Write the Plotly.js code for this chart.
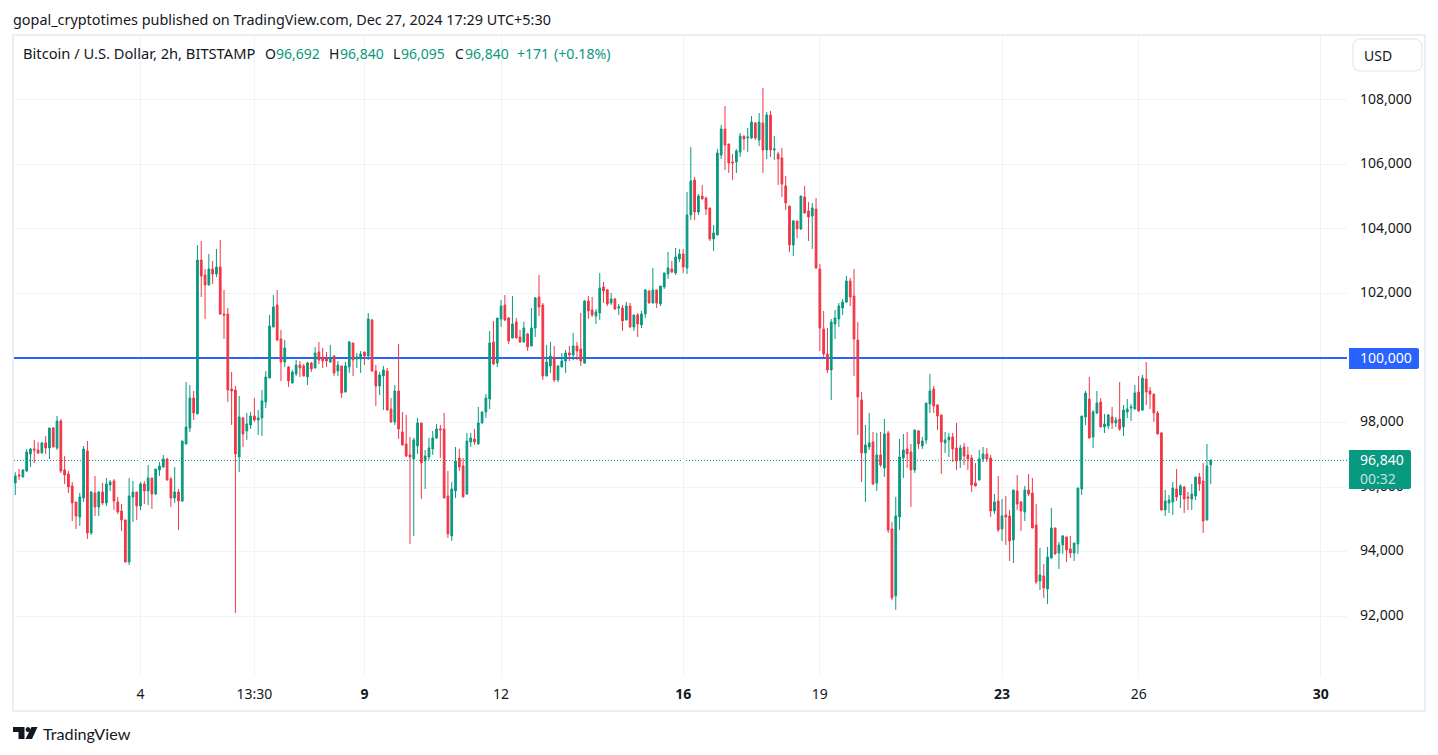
<!DOCTYPE html>
<html>
<head>
<meta charset="utf-8">
<title>Bitcoin / U.S. Dollar, 2h, BITSTAMP</title>
<script src="https://cdn.plot.ly/plotly-3.0.0.min.js"></script>
<style>html,body{margin:0;padding:0;background:#fff;overflow:hidden}#chart{width:1438px;height:755px}</style>
</head>
<body>
<div id="chart"></div>
<script>
const open = [
96126,96374,96312,96498,97025,97180,97149,97056,97366,97211,
97830,97211,98047,96529,96405,96033,95537,95072,95661,97118,
94576,95816,95382,95847,95506,96064,96188,95537,95258,94979,
93678,95692,95847,95413,96095,95878,96281,95785,96529,96622,
96870,96250,95661,95847,95568,97335,97830,98760,98266,103038,
102573,102264,102759,102604,102821,101365,101365,99041,99010,96933,
98142,97739,97925,98204,98080,98142,98638,99381,100962,101644,
100590,99877,99722,99226,99505,99784,99753,99412,99846,99691,
100187,100032,99970,99877,100063,99598,99753,98948,99722,100466,
99970,99970,100187,100063,101179,99598,99134,99443,99598,98420,
98018,98978,97708,97336,96995,96871,97274,97987,96809,96933,
97181,97522,97801,97801,95724,94485,95879,96902,96654,95786,
97398,97491,97336,97987,98327,98730,100497,99846,101209,101643,
101240,100621,101117,100652,100497,100745,100373,100931,101891,101643,
99443,99753,100032,99319,99722,99908,100156,100094,100373,100280,
99846,101769,101490,101304,101397,102203,102110,101707,101831,101552,
101552,101180,101614,100963,101335,101025,101366,102079,101707,102110,
101676,102203,102606,102761,102637,103071,103226,102792,104434,105519,
104527,105023,104961,104651,103691,103815,106294,107099,106635,106077,
106077,106387,106883,106821,106821,107285,106759,107285,106449,107533,
106449,106325,106201,105333,104713,103505,104248,104000,104992,104558,
104403,104620,102759,100900,100125,99629,101055,101210,101550,101736,
102387,101922,100559,98699,97057,97243,97398,96127,96995,96592,
97677,94702,92625,95074,96902,97181,97088,96530,97739,97274,
97460,98575,99040,98544,98235,97367,97460,97553,97212,96840,
97243,96995,96902,96127,96220,96870,97025,96901,95258,95568,
94701,95135,95104,94360,95878,95537,95228,95909,95816,94825,
93089,93244,92841,93802,94732,93957,94205,94453,94081,93957,
94236,95940,98172,98729,97552,98296,98636,97862,97893,98172,
97986,98110,97862,98327,98450,98419,98946,98388,99349,98977,
98884,98296,97676,95289,95506,95537,95940,95754,96002,95692,
95630,95723,96312,96188,94980,96692];
const high = [
96457,96560,96550,97180,97211,97459,97397,97397,97583,97830,
97861,98202,98109,96963,96498,96157,95537,95816,97273,97428,
95878,96343,95878,96126,96281,96219,96250,95692,95475,94990,
96281,96188,95847,96157,96188,96684,96281,96560,96777,96994,
96901,96312,96622,95940,97428,99256,99163,98977,103503,103627,
102759,103224,103007,103379,103658,102109,101551,99567,99134,98824,
98173,98297,98328,98762,98390,99010,99598,101334,101954,102109,
100869,100559,99753,99629,99939,99908,99815,99877,99877,100342,
100497,100311,100187,100404,100094,99908,99753,99877,100528,100466,
100156,100218,100187,101396,101210,99784,99567,99753,99691,98761,
99164,100435,98327,98234,97553,97522,98141,97987,97150,97522,
97739,97956,97925,98296,96499,96158,97243,97181,96902,97677,
97677,97801,98482,98340,98885,100838,101148,101240,101798,101953,
101271,101922,101240,100869,101117,100776,101550,101891,102573,101705,
100404,100497,100373,99784,100156,100249,100373,100776,100497,101395,
101798,101924,101893,101521,102637,102358,102141,102017,101862,101676,
101645,101738,101707,101335,101397,101459,102141,102090,102792,102110,
102234,102637,103288,103009,103412,103381,103381,105147,106542,105612,
105085,105364,105000,104651,104124,106480,107223,107812,106635,106325,
106480,106976,106883,107130,107502,107316,107595,108370,107626,107657,
106883,106387,106511,105643,104713,104279,104248,105023,105333,104837,
104806,104961,102914,101458,100931,101210,101488,101705,101829,102542,
102480,102759,101117,98947,97925,98297,97708,97677,97708,98111,
97739,94919,95693,97491,97646,97708,97336,97770,97770,97553,
98606,99505,99133,98575,98235,97708,97677,97677,97987,97305,
97367,97243,96995,96747,97150,97242,97211,96994,95785,96343,
95630,95723,95289,95909,96374,95568,96033,96405,96281,95475,
94112,93616,94143,95351,94732,94298,94515,94453,94484,94267,
95971,98203,98977,99411,98388,98977,98760,98265,98265,98481,
98172,99256,98543,98729,98574,99163,99442,99473,99876,99101,
98884,98358,97707,95909,95754,96157,96560,96095,96033,95847,
96095,96312,96436,96746,97335,96840];
const low = [
95754,96219,96300,96467,96622,96746,97025,97040,97025,96870,
97230,97149,96436,96095,95816,94948,94700,94793,95537,94391,
94515,95103,95103,95444,95413,95878,95289,95165,94638,93660,
93585,94917,94979,95289,95475,95444,95320,95754,96343,96591,
96200,95382,95506,94669,95537,97325,97707,98078,98260,101892,
101210,102250,102295,102511,101334,100590,98638,97925,92100,96468,
97243,97460,97801,98018,97615,97584,98452,99370,100950,100528,
99288,99722,99103,99210,99443,99412,99430,99165,99567,99680,
99815,99691,99722,99846,99443,99443,98762,98930,99536,99443,
99691,99536,99784,99939,99580,98514,98855,98389,98370,98000,
97925,97491,97290,96933,94237,94485,97026,95631,95941,96840,
96995,97491,96902,95650,94423,94330,95662,96499,95680,95755,
97243,97305,97320,97970,98141,98420,99784,99722,100962,101148,
100435,100610,100610,100466,100480,100218,100360,100652,101302,99319,
99430,99536,99257,99257,99710,99536,99908,99939,99939,99753,
99815,101211,101273,101056,101180,101707,101614,101645,101490,101335,
100840,101165,100932,100840,100654,100932,101242,101690,101690,101552,
101614,102141,102451,102637,102575,102978,102637,102606,104279,104279,
104434,104920,104434,103629,103319,103800,106170,105829,105736,105519,
105736,106232,106449,106387,106790,106759,106573,105736,106170,106232,
106139,105364,104992,104589,103288,103164,103722,103970,104480,103629,
103381,102761,100218,100032,99536,98699,100590,100962,101334,101705,
101612,99443,97615,96158,95538,97150,96065,95879,96623,96313,
94578,92501,92191,94671,96282,96592,95383,96437,97181,97181,
97336,98297,98297,97770,96406,97057,96933,96778,96530,96592,
96685,96530,95848,96020,96205,96777,96777,95073,95166,94608,
94329,94205,93709,93647,95289,94639,94949,95723,94720,92996,
92810,92562,92376,93771,93910,93461,93926,93678,93802,93709,
93926,95754,97924,97505,97211,98265,97850,97676,97800,97800,
97862,97738,97583,98141,98048,98405,98340,98358,98543,98419,
98017,97630,95270,95104,95196,95135,95568,95351,95196,95289,
95289,95599,95878,94577,94965,96095];
const close = [
96343,96343,96529,97087,97180,97149,97056,97366,97211,97830,
97242,98047,96498,96374,96002,95506,95103,95692,97180,94576,
95847,95382,95847,95506,96095,96157,95568,95227,94979,93678,
95723,95847,95413,96095,95878,96281,95785,96560,96653,96870,
96219,95661,95847,95568,97428,97861,98760,98295,103038,102542,
102264,102759,102604,102821,101365,101334,99010,98979,97026,98173,
97646,97956,98204,98080,98142,98669,99412,100993,101582,100559,
99877,100311,99288,99567,99784,99691,99443,99846,99660,100156,
99939,99908,99908,100001,99536,99784,98917,99753,100497,99939,
100032,100125,100063,101210,99598,99134,99474,99629,98389,98018,
98978,97801,97305,96964,96933,97460,97987,96747,96964,97212,
97522,97801,97770,95662,94547,95941,96809,96623,95693,97429,
97522,97398,97987,98327,98761,100466,99815,101240,101612,101178,
100528,101055,100621,100497,100931,100342,100931,101860,101581,99443,
99877,100063,99319,99753,99908,100156,100094,100373,100218,99908,
101767,101459,101335,101428,102172,102079,101676,101831,101521,101583,
101149,101614,100963,101335,101056,101366,102110,101707,102110,101707,
102234,102637,102792,102668,103133,103226,102823,104434,105488,104527,
105023,104930,104620,103691,103877,106356,107099,106604,106046,106046,
106418,106883,106790,106852,107316,106821,107316,106449,107533,106449,
106480,106170,105395,104806,103505,104248,104000,105023,104496,104372,
104651,102792,100931,100125,99629,101117,101241,101612,101736,102387,
101891,100590,98792,97057,97305,97367,96096,96995,96685,97646,
94671,92563,95105,96933,97150,97026,96530,97770,97336,97429,
98606,98978,98513,98204,97398,97460,97553,97181,96809,97212,
96964,96871,96065,96034,96871,97025,96870,95258,95537,94670,
95104,95073,94329,95909,95475,95258,95909,95785,94732,93058,
93275,92872,93833,94732,93926,94205,94484,94050,93957,94267,
95971,98203,98915,97521,98327,98605,97862,97955,98234,97986,
98079,97800,98388,98419,98481,98915,98358,99380,98946,98884,
98296,97645,95289,95568,95599,95971,95692,96033,95630,95661,
95785,96312,96095,94949,96653,96840];

const timeTickBars = [33,63,92,128,176,212,260,296,344];
const timeTickLabels = ['4','13:30','<b>9</b>','12','<b>16</b>','19','<b>23</b>','26','<b>30</b>'];
const priceTicks = [92000,94000,96000,98000,100000,102000,104000,106000,108000];
const alertLevel = 100000;
const lastPrice = 96840;

const UP = '#089981', DOWN = '#F23645', BLUE = '#2962FF', INK = '#131722', GRID = '#F0F3FA', FRAME = '#EDEEF5';
const FONT = '"Noto Sans", sans-serif';

// page pixels -> plot "paper" fractions
const M = {l:14, r:91, t:36, b:78}, W = 1438, H = 755;
const pw = W - M.l - M.r, ph = H - M.t - M.b;
const px = x => (x - M.l) / pw;
const py = y => 1 - (y - M.t) / ph;

const barIndex = open.map((_, i) => i);
const xRange = [-0.34, 350.9];

const candles = {
  type: 'candlestick', x: barIndex, open, high, low, close,
  increasing: {line: {color: UP, width: 1}, fillcolor: UP},
  decreasing: {line: {color: DOWN, width: 1}, fillcolor: DOWN},
  whiskerwidth: 0, hoverinfo: 'skip', showlegend: false
};
const alertLine = {
  type: 'scatter', mode: 'lines', x: xRange, y: [alertLevel, alertLevel], zorder: -1,
  line: {color: BLUE, width: 2}, hoverinfo: 'skip', showlegend: false
};

function rect(x0, y0, x1, y1, o) {
  return Object.assign({type:'rect', xref:'paper', yref:'paper', x0:px(x0), x1:px(x1), y0:py(y0), y1:py(y1), line:{width:0}}, o);
}
function poly(pts, close_, o) {
  const d = pts.map((p, i) => (i ? 'L' : 'M') + px(p[0]) + ',' + py(p[1])).join(' ') + (close_ ? ' Z' : '');
  return Object.assign({type:'path', xref:'paper', yref:'paper', path:d, line:{width:0}}, o);
}
function roundRight(x0, y0, x1, y1, fill) {
  return poly([[x0,y0],[x1-2,y0],[x1-.6,y0+.6],[x1,y0+2],[x1,y1-2],[x1-.6,y1-.6],[x1-2,y1],[x0,y1]], true, {fillcolor:fill, layer:'above'});
}
function roundAll(x0, y0, x1, y1, r) {
  const k = r * .3;
  return poly([[x0+r,y0],[x1-r,y0],[x1-k,y0+k],[x1,y0+r],[x1,y1-r],[x1-k,y1-k],[x1-r,y1],[x0+r,y1],[x0+k,y1-k],[x0,y1-r],[x0,y0+r],[x0+k,y0+k]], true,
    {fillcolor:'#fff', line:{color:'#E0E3EB', width:1}, layer:'above'});
}
function note(text, x, y, size, color, extra) {
  return Object.assign({xref:'paper', yref:'paper', x:px(x), y:py(y), text, showarrow:false, xanchor:'left', yanchor:'middle',
    font:{family:FONT, size, color}, borderpad:0, borderwidth:0}, extra);
}

const shapes = [
  rect(13, 35, 1425, 711, {fillcolor:'rgba(0,0,0,0)', line:{color:FRAME, width:2}, layer:'below'}),
  {type:'line', xref:'paper', yref:'y', x0:0, x1:1, y0:lastPrice - 17, y1:lastPrice - 17, line:{color:UP, width:1, dash:'1px,2px'}, layer:'below'},
  roundRight(1349, 348, 1419, 369, BLUE),
  roundRight(1349, 450, 1411, 489, UP),
  roundAll(1353, 39, 1422, 71, 6),
  // TradingView mark
  poly([[13,727],[24.5,727],[24.5,739],[18.5,739],[18.5,732],[13,732]], true, {fillcolor:INK, layer:'above'}),
  {type:'circle', xref:'paper', yref:'paper', x0:px(25.6), x1:px(30.4), y0:py(727), y1:py(732), fillcolor:INK, line:{width:0}, layer:'above'},
  poly([[31.5,727],[37.5,727],[32,739],[25.5,739]], true, {fillcolor:INK, layer:'above'})
];

const G = UP;
const annotations = [
  note('gopal_cryptotimes published on TradingView.com, Dec 27, 2024 17:29 UTC+5:30', 13, 19.5, 14.4, INK),
  note('Bitcoin / U.S. Dollar, 2h, BITSTAMP', 23, 53.5, 14.7, INK),
  note('O', 265, 53.5, 14, INK), note('96,692', 276, 53.5, 14, G),
  note('H', 329, 53.5, 14, INK), note('96,840', 340, 53.5, 14, G),
  note('L', 393, 53.5, 14, INK), note('96,095', 401, 53.5, 14, G),
  note('C', 455, 53.5, 14, INK), note('96,840', 465, 53.5, 14, G),
  note('+171', 517, 53.5, 14, G), note('(+0.18%)', 553.5, 53.5, 14.2, G),
  note('USD', 1364, 55, 14, INK),
  note('100,000', 1360, 358, 14, '#fff'),
  note('96,840', 1360, 459.5, 14, '#fff'),
  note('00:32', 1360, 478, 14, 'rgba(255,255,255,0.75)'),
  note('TradingView', 43, 733, 16, INK, {font:{family:'Lato, sans-serif', size:16.2, color:INK}})
];

const layout = {
  width: W, height: H, margin: M, boxgap: 0.35,
  paper_bgcolor: '#fff', plot_bgcolor: '#fff', showlegend: false, dragmode: false, hovermode: false,
  font: {family: FONT, color: INK, size: 14},
  xaxis: {type:'linear', range:xRange, rangeslider:{visible:false}, tickmode:'array', tickvals:timeTickBars, ticktext:timeTickLabels,
    showgrid:true, gridcolor:GRID, gridwidth:1, zeroline:false, showline:false, ticks:'', ticklabelstandoff:7, tickfont:{family:FONT, size:14, color:INK}},
  yaxis: {side:'right', range:[90111, 109982], tickmode:'array', tickvals:priceTicks, tickformat:',d', ticklabelshift:-1,
    showgrid:true, gridcolor:GRID, gridwidth:1, zeroline:false, showline:false, ticks:'', ticklabelstandoff:12, tickfont:{family:FONT, size:14, color:INK}},
  shapes, annotations
};

Plotly.newPlot('chart', [alertLine, candles], layout, {displayModeBar:false, staticPlot:true});
</script>
</body>
</html>
